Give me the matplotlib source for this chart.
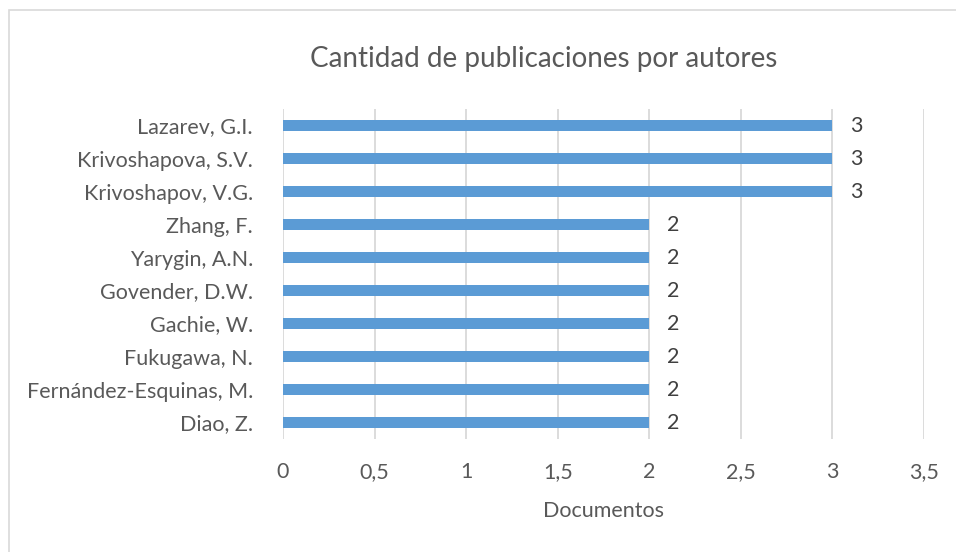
import matplotlib.pyplot as plt
from matplotlib.patches import Rectangle

autores = ['Lazarev, G.I.', 'Krivoshapova, S.V.', 'Krivoshapov, V.G.', 'Zhang, F.',
           'Yarygin, A.N.', 'Govender, D.W.', 'Gachie, W.', 'Fukugawa, N.',
           'Fernández-Esquinas, M.', 'Diao, Z.']
documentos = [3, 3, 3, 2, 2, 2, 2, 2, 2, 2]
ticks = [0, 0.5, 1, 1.5, 2, 2.5, 3, 3.5]
tick_labels = ['0', '0,5', '1', '1,5', '2', '2,5', '3', '3,5']

plt.rcParams['font.family'] = ['Lato', 'DejaVu Sans']

fig = plt.figure(figsize=(9.56, 5.52), dpi=100)
ax = fig.add_axes([0.296, 0.2047, 0.6705, 0.5978])

# marco del grafico
fig.patches.append(Rectangle((9 / 956, -0.1), 1.2, 1 - 10 / 552 + 0.1,
                             transform=fig.transFigure, fill=False,
                             edgecolor='#d9d9d9', linewidth=1.2))

y = list(range(len(autores)))
bars = ax.barh(y, documentos, height=0.36, color='#5b9bd5', zorder=3)
ax.bar_label(bars, labels=[str(v) for v in documentos], padding=13,
             fontsize=15.5, color='#404040')

ax.set_ylim(len(autores) - 0.5, -0.5)
ax.set_yticks(y)
ax.set_yticklabels(autores, fontsize=15.5, color='#595959')
ax.set_xlim(0, 3.5)
ax.set_xticks(ticks)
ax.set_xticklabels(tick_labels, fontsize=15.5, color='#595959')
ax.tick_params(length=0)
ax.tick_params(axis='y', pad=21.5)
ax.tick_params(axis='x', pad=16.5)

ax.xaxis.grid(True, color='#d9d9d9', linewidth=1.3, zorder=0)
for s in ax.spines.values():
    s.set_visible(False)

ax.set_xlabel('Documentos', fontsize=15.5, color='#595959', labelpad=14)
fig.text(0.569, 0.893, 'Cantidad de publicaciones por autores', ha='center',
         va='center', fontsize=20, color='#595959')

fig.savefig('out.png', dpi=100)
